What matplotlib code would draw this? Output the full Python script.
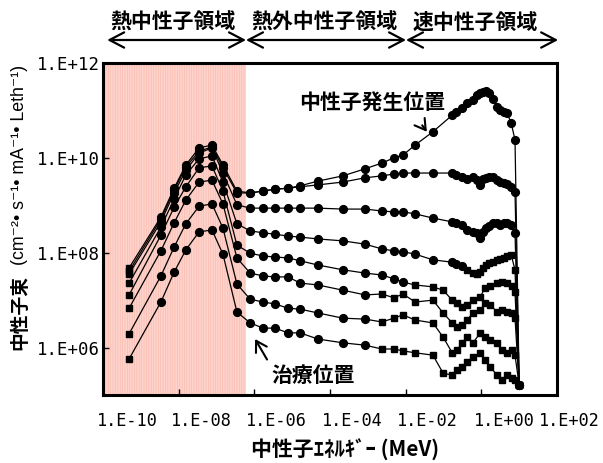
import numpy as np
import matplotlib
matplotlib.use("Agg")
import matplotlib.pyplot as plt
import matplotlib.transforms as mtransforms
from matplotlib.ticker import NullLocator, FixedLocator

# ---------------- data (log10 of energy in MeV, log10 of flux) ----------------
logE_thermal = [-9.31, -8.47, -8.12, -7.81, -7.46, -7.12, -6.83, -6.46]
logE_epi = [-6.11, -5.77, -5.45, -5.11, -4.79, -4.32, -3.66, -3.07, -2.63, -2.31, -2.07, -1.75]
logE_fast_upper = [-1.28, -0.77, -0.67, -0.51, -0.38, -0.22, -0.11, -0.03, 0.05, 0.12,
                   0.20, 0.31, 0.42, 0.49, 0.60, 0.68, 0.79, 0.89, 1.00]
logE_fast_lower = [-1.28, -1.01, -0.77, -0.64, -0.51, -0.38, -0.22, -0.03, 0.10, 0.23,
                   0.42, 0.55, 0.68, 0.81, 0.89, 1.00]

# series 1 = neutron source position (top) ... series 8 = treatment position (bottom)
log_flux_1 = [7.68, 8.75, 9.36, 9.85, 10.21, 10.27, 9.85, 9.30,
              9.26, 9.30, 9.34, 9.36, 9.41, 9.51, 9.62, 9.77, 9.89, 10.00, 10.06, 10.27,
              10.55, 10.90, 10.97, 11.05, 11.16, 11.22, 11.33, 11.37, 11.39, 11.41,
              11.37, 11.24, 11.07, 11.01, 10.97, 10.95, 10.73, 10.38, 5.21]
log_flux_2 = [7.61, 8.71, 9.32, 9.81, 10.14, 10.23, 9.79, 9.26,
              9.26, 9.30, 9.34, 9.36, 9.39, 9.43, 9.49, 9.58, 9.62, 9.66, 9.68, 9.68,
              9.68, 9.68, 9.64, 9.60, 9.55, 9.60, 9.53, 9.43, 9.55, 9.58,
              9.60, 9.60, 9.53, 9.49, 9.47, 9.45, 9.39, 9.28, 5.21]
log_flux_3 = [7.55, 8.65, 9.26, 9.74, 10.10, 10.21, 9.68, 9.01,
              8.94, 8.94, 8.94, 8.94, 8.94, 8.94, 8.92, 8.92, 8.88, 8.86, 8.86, 8.82,
              8.73, 8.65, 8.63, 8.58, 8.48, 8.44, 8.42, 8.31, 8.44, 8.52,
              8.56, 8.63, 8.63, 8.58, 8.63, 8.63, 8.58, 8.42, 5.21]
log_flux_4 = [7.36, 8.54, 9.13, 9.64, 9.98, 10.04, 9.49, 8.61,
              8.46, 8.42, 8.39, 8.35, 8.33, 8.29, 8.25, 8.18, 8.08, 8.04, 8.02, 7.97,
              7.85, 7.80, 7.76, 7.72, 7.64, 7.57, 7.55, 7.59, 7.68, 7.74,
              7.78, 7.80, 7.85, 7.87, 7.89, 7.93, 7.95, 7.64, 5.21]
log_flux_5 = [7.11, 8.37, 8.96, 9.39, 9.79, 9.83, 9.30, 8.16,
              7.99, 7.93, 7.91, 7.89, 7.83, 7.74, 7.64, 7.57, 7.53, 7.45, 7.38, 7.32,
              7.28, 7.21, 7.00, 6.94, 6.86, 6.90, 7.00, 7.07, 7.26, 7.30,
              7.36, 7.38, 7.36, 7.30, 7.17, 5.21]
log_flux_6 = [6.83, 8.04, 8.63, 9.11, 9.49, 9.53, 9.03, 7.89,
              7.57, 7.51, 7.49, 7.49, 7.36, 7.32, 7.21, 7.11, 7.13, 7.05, 7.13, 6.96,
              7.00, 6.73, 6.52, 6.43, 6.48, 6.58, 6.73, 6.79, 6.94, 6.90,
              6.75, 6.79, 6.75, 6.73, 6.62, 5.21]
log_flux_7 = [6.29, 7.51, 8.12, 8.61, 8.98, 9.03, 8.52, 7.34,
              7.02, 6.96, 6.92, 6.83, 6.81, 6.73, 6.62, 6.60, 6.54, 6.62, 6.69, 6.58,
              6.52, 6.22, 5.89, 5.95, 6.10, 6.22, 6.10, 6.31, 6.22, 6.16,
              6.10, 5.95, 5.89, 5.95, 5.84, 5.21]
log_flux_8 = [5.76, 6.96, 7.59, 8.06, 8.44, 8.48, 7.97, 6.75,
              6.52, 6.41, 6.41, 6.31, 6.31, 6.18, 6.10, 6.05, 5.97, 5.97, 5.93, 5.89,
              5.84, 5.46, 5.42, 5.53, 5.59, 5.70, 5.80, 5.89, 5.74, 5.59,
              5.42, 5.32, 5.42, 5.36, 5.32, 5.21]

# log10 energy above which each series is drawn with square markers
square_from = [99, 99, 99, -0.45, -1.9, -2.7, -2.7, -2.7]

x_tick_exps = [-10, -8, -6, -4, -2, 0, 2]
x_tick_labels = ["1.E-10", "1.E-08", "1.E-06", "1.E-04", "1.E-02", "1.E+00", "1.E+02"]
y_tick_exps = [6, 8, 10, 12]
y_tick_labels = ["1.E+06", "1.E+08", "1.E+10", "1.E+12"]

region_names = ["熱中性子領域", "熱外中性子領域", "速中性子領域"]
region_bounds_log = [-9.89, -6.22, -1.99, 2.03]     # thermal / epithermal / fast
thermal_shade_upper = 6e-7

# ---------------- figure ----------------
W, H = 603, 463
fig = plt.figure(figsize=(W / 100, H / 100), dpi=100)
ax = fig.add_axes([103 / W, 1 - 395 / H, 454 / W, 332 / H])
ax.set_xscale("log")
ax.set_yscale("log")
ax.set_xlim(10.0 ** x_tick_exps[0], 10.0 ** x_tick_exps[-1])
ax.set_ylim(1e5, 1e12)

plt.rcParams["hatch.linewidth"] = 0.5
ax.axvspan(10.0 ** x_tick_exps[0], thermal_shade_upper, facecolor="#ffd3cb",
           edgecolor="#f7bcb1", hatch="|||||||", lw=0, zorder=0)

upper_E = np.array(logE_thermal + logE_epi + logE_fast_upper)
lower_E = np.array(logE_thermal + logE_epi + logE_fast_lower)
series = [log_flux_1, log_flux_2, log_flux_3, log_flux_4,
          log_flux_5, log_flux_6, log_flux_7, log_flux_8]
for i, s in enumerate(series):
    le = upper_E if i < 4 else lower_E
    ls = np.array(s)
    x = 10.0 ** le
    y = 10.0 ** ls
    ax.plot(x, y, color="black", lw=0.9, zorder=2)
    sq = le > square_from[i]
    sq[0] = True
    ax.plot(x[~sq], y[~sq], "o", ms=5.6, color="black", zorder=3)
    ax.plot(x[sq], y[sq], "s", ms=5.0, color="black", zorder=3)

# axes styling
for sp in ax.spines.values():
    sp.set_linewidth(2.2)
ax.xaxis.set_major_locator(FixedLocator([10.0 ** e for e in x_tick_exps]))
ax.yaxis.set_major_locator(FixedLocator([10.0 ** e for e in y_tick_exps]))
ax.xaxis.set_minor_locator(NullLocator())
ax.yaxis.set_minor_locator(NullLocator())
ax.tick_params(axis="both", which="major", direction="in", length=4, width=1)
ax.set_xticklabels([])
ax.set_yticklabels(y_tick_labels, fontfamily="DejaVu Sans Mono", fontsize=12.5)
ax.tick_params(axis="y", pad=2)

# x tick labels (shifted right like the original; last one kept inside the figure)
label_shift_px = [24, 23, 22, 22, 22, 23, 12]
for e, lab, dx in zip(x_tick_exps, x_tick_labels, label_shift_px):
    off = mtransforms.ScaledTranslation(dx / 100, 0, fig.dpi_scale_trans)
    ax.text(10.0 ** e, -0.078, lab, transform=ax.get_xaxis_transform() + off,
            ha="center", va="center", fontfamily="DejaVu Sans Mono", fontsize=12.2,
            clip_on=False)

cjk = ["Noto Sans CJK JP", "DejaVu Sans"]

# x label
fig.text(345 / W, 1 - 450 / H, "中性子ｴﾈﾙｷﾞｰ (MeV)", ha="center", va="center",
         fontfamily=cjk, fontsize=15, fontweight="bold")

# y label (two parts)
fig.text(20 / W, 1 - 350 / H, "中性子束", rotation=90, ha="center", va="bottom",
         fontfamily=cjk, fontsize=13.5, fontweight="bold")
fig.text(20 / W, 1 - 265 / H, "(cm⁻²• s⁻¹• mA⁻¹• Leth⁻¹)", rotation=90,
         ha="center", va="bottom", fontfamily=["Liberation Sans", "DejaVu Sans"],
         fontsize=12.8)

# region arrows above the plot (heads meet at the boundaries, forming crosses)
blend = mtransforms.blended_transform_factory(ax.transData, ax.transAxes)
arrow_y = 1 + (63 - 40) / 332
text_y = 1 + (63 - 22) / 332
for k in range(3):
    a = region_bounds_log[k]
    b = region_bounds_log[k + 1]
    ax.annotate("", xy=(10.0 ** b, arrow_y), xytext=(10.0 ** a, arrow_y),
                xycoords=blend, textcoords=blend, annotation_clip=False,
                arrowprops=dict(arrowstyle="<->,head_length=1.05,head_width=0.55",
                                lw=1.6, color="black", shrinkA=0, shrinkB=0))
text_centers = [-8.15, -4.15, -0.15]
for name, c in zip(region_names, text_centers):
    ax.text(10.0 ** c, text_y, name, transform=blend, ha="center", va="center",
            fontfamily=cjk, fontsize=15, fontweight="bold", clip_on=False)

# annotations
ax.annotate("中性子発生位置", xy=(10.0 ** -1.44, 10.0 ** 10.55),
            xytext=(10.0 ** -2.89, 10.0 ** 11.18), ha="center", va="center",
            fontfamily=cjk, fontsize=15, fontweight="bold",
            arrowprops=dict(arrowstyle="->,head_length=0.5,head_width=0.3", lw=1.5,
                            color="black", shrinkA=9, shrinkB=0,
                            relpos=(0.78, 0.0)))
ax.annotate("治療位置", xy=(10.0 ** -5.98, 10.0 ** 6.18),
            xytext=(10.0 ** -4.45, 10.0 ** 5.42), ha="center", va="center",
            fontfamily=cjk, fontsize=15, fontweight="bold",
            arrowprops=dict(arrowstyle="->,head_length=0.5,head_width=0.3", lw=1.5,
                            color="black", shrinkA=2, shrinkB=0,
                            relpos=(0.0, 0.9)))

fig.savefig("out.png", dpi=100)
